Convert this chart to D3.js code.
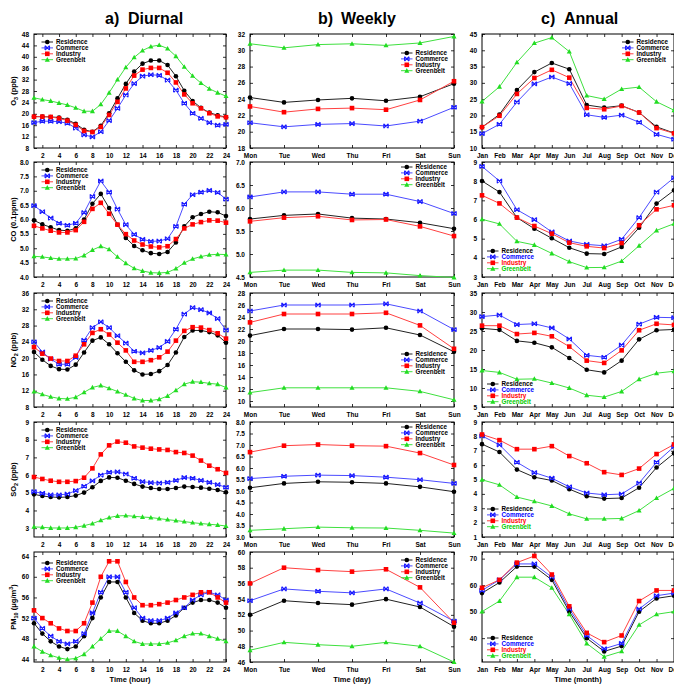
<!DOCTYPE html>
<html>
<head>
<meta charset="utf-8">
<script src="https://cdn.jsdelivr.net/npm/d3@7"></script>
<style>
  body { margin: 0; background: #fff; }
  svg { display: block; font-family: Arial, "Liberation Sans", sans-serif; }
</style>
</head>
<body>
<script>
// ---- categories ----
const hours = d3.range(1, 25);
const days = ["Mon", "Tue", "Wed", "Thu", "Fri", "Sat", "Sun"];
const months = ["Jan", "Feb", "Mar", "Apr", "May", "Jun", "Jul", "Aug", "Sep", "Oct", "Nov", "Dec"];
const sites = ["Residence", "Commerce", "Industry", "Greenbelt"];
const hourTicks = d3.range(2, 25, 2);

// ---- series values: each panel lists [Residence, Commerce, Industry, Greenbelt] ----
const o3Diurnal = [
  [19.0, 19.0, 18.9, 18.7, 17.9, 16.5, 14.4, 13.7, 15.8, 20.2, 25.4, 30.5, 34.8, 37.6, 38.7, 38.7, 37.1, 33.2, 28.1, 24.5, 22.1, 20.4, 19.5, 18.8],
  [16.9, 17.4, 17.4, 17.2, 16.7, 15.0, 12.6, 11.9, 13.7, 17.6, 21.9, 26.6, 30.6, 33.2, 33.7, 33.5, 31.8, 28.3, 23.7, 20.2, 18.4, 16.9, 16.0, 16.3],
  [19.0, 19.0, 18.9, 18.4, 17.6, 16.1, 14.0, 13.6, 15.4, 19.6, 24.2, 28.9, 33.4, 35.5, 36.1, 36.1, 34.4, 31.0, 26.8, 23.7, 21.9, 20.2, 19.1, 18.8],
  [25.6, 25.0, 24.5, 23.8, 23.1, 22.1, 20.9, 20.9, 23.3, 27.4, 32.0, 36.3, 39.8, 42.2, 43.6, 44.1, 42.9, 40.2, 36.5, 33.3, 30.8, 28.8, 27.4, 26.2]
];
const coDiurnal = [
  [5.97, 5.83, 5.73, 5.63, 5.61, 5.69, 6.00, 6.55, 6.89, 6.40, 5.82, 5.36, 5.08, 4.93, 4.83, 4.80, 4.87, 5.20, 5.76, 6.08, 6.19, 6.27, 6.25, 6.12],
  [6.48, 6.27, 6.05, 5.87, 5.80, 5.87, 6.24, 6.80, 7.34, 6.95, 6.36, 5.82, 5.48, 5.31, 5.24, 5.25, 5.33, 5.76, 6.53, 6.86, 6.95, 7.01, 6.94, 6.71],
  [5.78, 5.69, 5.61, 5.55, 5.55, 5.63, 5.92, 6.37, 6.58, 6.20, 5.82, 5.49, 5.27, 5.13, 5.06, 5.03, 5.07, 5.32, 5.69, 5.83, 5.91, 5.97, 5.96, 5.89],
  [4.72, 4.70, 4.66, 4.63, 4.63, 4.64, 4.75, 4.94, 5.07, 4.96, 4.70, 4.48, 4.30, 4.21, 4.15, 4.14, 4.16, 4.29, 4.49, 4.63, 4.71, 4.77, 4.79, 4.78]
];
const no2Diurnal = [
  [21.5, 19.6, 18.1, 17.3, 17.2, 18.4, 21.4, 24.3, 25.1, 23.4, 21.2, 19.1, 17.0, 16.0, 16.1, 16.8, 18.3, 21.4, 25.2, 26.8, 26.8, 26.4, 25.6, 23.8],
  [24.0, 21.5, 19.8, 18.5, 18.5, 20.2, 24.4, 27.5, 28.9, 27.5, 25.5, 23.7, 21.7, 21.3, 21.9, 22.6, 24.1, 27.1, 30.8, 32.4, 31.9, 31.1, 29.7, 26.9],
  [22.7, 21.1, 19.9, 19.3, 19.3, 20.6, 23.4, 26.2, 27.1, 25.8, 23.8, 21.9, 19.1, 19.1, 19.5, 20.2, 21.6, 24.3, 26.7, 27.6, 27.5, 26.9, 26.1, 24.8],
  [11.8, 11.1, 10.5, 10.1, 10.0, 10.4, 11.6, 12.8, 13.3, 12.6, 11.8, 11.0, 10.1, 9.6, 9.6, 9.9, 10.7, 12.1, 13.6, 14.2, 14.1, 13.8, 13.6, 12.8]
];
const so2Diurnal = [
  [4.91, 4.82, 4.76, 4.74, 4.76, 4.84, 5.01, 5.31, 5.67, 5.87, 5.85, 5.68, 5.50, 5.35, 5.27, 5.21, 5.21, 5.27, 5.35, 5.33, 5.29, 5.23, 5.16, 5.03],
  [5.06, 4.97, 4.88, 4.88, 4.93, 5.12, 5.37, 5.67, 6.00, 6.16, 6.18, 6.06, 5.82, 5.63, 5.57, 5.55, 5.59, 5.70, 5.86, 5.82, 5.70, 5.59, 5.46, 5.31],
  [5.89, 5.78, 5.68, 5.62, 5.62, 5.66, 5.85, 6.38, 7.17, 7.68, 7.89, 7.83, 7.62, 7.55, 7.49, 7.45, 7.42, 7.30, 7.25, 7.10, 6.82, 6.53, 6.33, 6.12],
  [3.07, 3.05, 3.01, 3.01, 3.01, 3.05, 3.14, 3.26, 3.44, 3.60, 3.69, 3.71, 3.67, 3.63, 3.60, 3.54, 3.48, 3.43, 3.37, 3.31, 3.26, 3.22, 3.18, 3.12]
];
const pmDiurnal = [
  [51.0, 49.0, 47.5, 46.5, 46.0, 46.5, 48.5, 52.0, 56.0, 59.0, 59.0, 56.0, 53.0, 51.5, 51.0, 51.0, 51.5, 52.5, 54.0, 55.0, 55.5, 55.5, 55.0, 54.0],
  [52.0, 50.0, 48.5, 47.5, 47.0, 47.5, 49.0, 53.0, 57.0, 60.0, 60.0, 57.0, 54.0, 52.0, 51.5, 51.5, 52.0, 53.0, 54.0, 55.5, 56.5, 57.0, 56.5, 55.5],
  [53.5, 52.0, 51.0, 50.0, 49.5, 49.5, 51.0, 55.0, 60.0, 63.0, 63.0, 59.0, 56.0, 54.5, 54.5, 54.7, 55.0, 55.5, 56.0, 56.5, 57.0, 57.0, 56.0, 55.0],
  [46.5, 45.5, 44.8, 44.3, 44.0, 44.2, 45.0, 46.5, 48.0, 49.5, 49.5, 48.5, 47.5, 47.0, 47.0, 47.0, 47.2, 47.7, 48.5, 49.0, 49.0, 48.5, 48.0, 47.5]
];

const o3Weekly = [
  [24.2, 23.6, 23.9, 24.1, 23.8, 24.3, 25.9],
  [21.1, 20.6, 20.9, 21.0, 20.7, 21.3, 23.0],
  [23.1, 22.4, 22.8, 22.9, 22.7, 23.9, 26.2],
  [30.8, 30.3, 30.7, 30.8, 30.6, 30.9, 31.7]
];
const coWeekly = [
  [5.76, 5.84, 5.87, 5.78, 5.76, 5.68, 5.55],
  [6.24, 6.35, 6.35, 6.30, 6.30, 6.14, 5.88],
  [5.71, 5.79, 5.82, 5.74, 5.75, 5.60, 5.39],
  [4.60, 4.65, 4.65, 4.60, 4.59, 4.53, 4.49]
];
const no2Weekly = [
  [20.9, 22.0, 22.0, 21.9, 22.2, 21.0, 18.2],
  [25.0, 26.0, 26.0, 26.0, 26.2, 25.0, 21.9],
  [23.1, 24.5, 24.5, 24.5, 24.7, 22.6, 18.7],
  [11.4, 12.2, 12.2, 12.2, 12.2, 11.6, 10.2]
];
const so2Weekly = [
  [5.14, 5.33, 5.40, 5.38, 5.33, 5.18, 4.97],
  [5.54, 5.64, 5.69, 5.67, 5.60, 5.49, 5.33],
  [6.69, 6.97, 7.02, 6.97, 6.95, 6.65, 6.13],
  [3.29, 3.36, 3.43, 3.40, 3.39, 3.29, 3.17]
];
const pmWeekly = [
  [52.0, 53.8, 53.5, 53.3, 54.0, 53.0, 50.5],
  [53.8, 55.3, 55.0, 54.8, 55.3, 53.5, 51.2],
  [56.0, 58.0, 57.7, 57.5, 57.8, 55.5, 51.0],
  [47.5, 48.5, 48.2, 48.0, 48.5, 48.0, 46.0]
];

const o3Annual = [
  [16.4, 20.3, 27.8, 33.3, 36.1, 34.2, 23.2, 22.4, 23.0, 20.9, 16.5, 14.6],
  [14.4, 17.3, 24.1, 29.7, 31.8, 29.8, 20.2, 19.4, 20.1, 17.9, 14.2, 12.7],
  [16.4, 19.9, 26.6, 31.5, 34.0, 31.6, 22.3, 21.9, 22.9, 20.9, 16.1, 14.5],
  [24.3, 28.8, 36.3, 42.2, 43.9, 39.6, 26.1, 25.0, 28.1, 28.7, 24.2, 21.6]
];
const coAnnual = [
  [8.01, 7.43, 6.10, 5.52, 5.02, 4.53, 4.22, 4.20, 4.57, 5.57, 6.83, 7.52],
  [8.77, 8.01, 6.51, 5.99, 5.35, 4.88, 4.70, 4.63, 4.97, 6.10, 7.43, 8.18],
  [7.26, 6.84, 6.10, 5.66, 5.26, 4.79, 4.60, 4.51, 4.77, 5.70, 6.53, 6.74],
  [6.01, 5.77, 4.86, 4.67, 4.23, 3.80, 3.49, 3.50, 3.83, 4.63, 5.43, 5.78]
];
const no2Annual = [
  [25.7, 25.3, 22.4, 21.9, 20.7, 17.9, 14.8, 14.1, 17.2, 22.8, 25.2, 25.4],
  [28.8, 29.2, 26.7, 26.9, 25.8, 22.9, 18.6, 18.1, 21.3, 26.8, 28.6, 28.5],
  [26.4, 26.4, 24.2, 24.5, 23.6, 20.9, 17.2, 16.6, 19.9, 25.2, 26.9, 26.6],
  [14.6, 14.1, 12.3, 12.4, 11.3, 10.0, 8.1, 7.6, 9.1, 12.3, 13.9, 14.4]
];
const so2Annual = [
  [7.46, 6.91, 5.69, 5.16, 4.93, 4.33, 3.83, 3.67, 3.71, 4.43, 5.83, 6.82],
  [8.03, 7.41, 6.20, 5.48, 5.09, 4.49, 4.06, 3.94, 3.99, 4.75, 6.20, 7.28],
  [8.13, 7.74, 7.11, 7.11, 7.32, 6.63, 6.13, 5.51, 5.32, 5.76, 6.77, 7.44],
  [4.98, 4.63, 3.78, 3.48, 3.16, 2.61, 2.26, 2.26, 2.29, 2.84, 3.71, 4.38]
];
const pmAnnual = [
  [57.0, 61.0, 67.0, 67.0, 62.0, 50.0, 40.0, 35.0, 37.0, 50.0, 55.0, 56.0],
  [58.0, 62.0, 68.0, 68.0, 63.0, 51.0, 41.0, 36.0, 38.0, 51.0, 56.0, 57.0],
  [59.0, 62.0, 68.5, 71.0, 64.0, 52.0, 42.0, 38.5, 41.0, 54.0, 58.0, 58.0],
  [50.0, 54.0, 63.0, 63.0, 59.0, 49.0, 38.0, 33.0, 35.0, 45.0, 49.0, 50.0]
];

// ---- styling ----
const lineColor = ["#222222", "#4b4bff", "#ff4040", "#3fe03f"];
const markColor = ["#000000", "#1a1aff", "#ff0000", "#22dd22"];
const legendTextColor = ["#000000", "#0000ff", "#ff0000", "#00cc00"];

const W = 674, H = 684;
const svg = d3.select("body").append("svg").attr("width", W).attr("height", H);

const cols = [{x0: 34, x1: 226}, {x0: 250, x1: 454}, {x0: 482, x1: 674}];
const rows = [{y0: 34, y1: 148}, {y0: 162, y1: 277}, {y0: 293, y1: 407}, {y0: 422, y1: 537}, {y0: 552, y1: 662}];

function drawMarker(g, k, x, y) {
  if (k === 0) {
    g.append("circle").attr("cx", x).attr("cy", y).attr("r", 2.3).attr("fill", markColor[0]);
  } else if (k === 1) {
    const r = 2.2;
    g.append("path").attr("transform", `translate(${x},${y})`)
      .attr("d", `M${-r},${-r}L${r},${r}M${-r},${r}L${r},${-r}M${-r},${-r}L${-r},${r}M${r},${-r}L${r},${r}`)
      .attr("fill", "none").attr("stroke", markColor[1]).attr("stroke-width", 1.1);
  } else if (k === 2) {
    const s = 2.3;
    g.append("path").attr("transform", `translate(${x},${y})`)
      .attr("d", `M${-s},${-s}h${2 * s}v${2 * s}h${-2 * s}Z`).attr("fill", markColor[2]);
  } else {
    const s = 2.3;
    g.append("path").attr("transform", `translate(${x},${y})`)
      .attr("d", `M0,${-s * 1.15}L${s * 1.1},${s * 0.85}L${-s * 1.1},${s * 0.85}Z`).attr("fill", markColor[3]);
  }
}

function panel(cfg) {
  const c = cols[cfg.col], r = rows[cfg.row];
  const g = svg.append("g");
  const cats = cfg.cats;
  const x = d3.scalePoint().domain(cats).range([c.x0, c.x1]);
  const y = d3.scaleLinear().domain(cfg.yDomain).range([r.y1, r.y0]);

  // frame
  g.append("rect").attr("x", c.x0).attr("y", r.y0).attr("width", c.x1 - c.x0).attr("height", r.y1 - r.y0)
    .attr("fill", "none").attr("stroke", "#000").attr("stroke-width", 1);

  // axes with inward ticks on all four sides
  const xTickVals = cfg.xTicks || cats;
  const bottom = d3.axisBottom(x).tickValues(xTickVals).tickSizeInner(-3).tickSizeOuter(0).tickPadding(5);
  const top = d3.axisTop(x).tickValues(xTickVals).tickSizeInner(-3).tickSizeOuter(0).tickFormat("");
  const left = d3.axisLeft(y).tickValues(cfg.yTicks).tickSizeInner(-3).tickSizeOuter(0).tickPadding(5)
    .tickFormat(cfg.yFormat ? d3.format(cfg.yFormat) : d3.format("d"));
  const right = d3.axisRight(y).tickValues(cfg.yTicks).tickSizeInner(-3).tickSizeOuter(0).tickFormat("");

  [[bottom, `translate(0,${r.y1})`], [top, `translate(0,${r.y0})`], [left, `translate(${c.x0},0)`], [right, `translate(${c.x1},0)`]]
    .forEach(([ax, tr]) => {
      const a = g.append("g").attr("transform", tr).call(ax);
      a.select(".domain").remove();
      a.selectAll("line").attr("stroke", "#000").attr("stroke-width", 0.8);
      a.selectAll("text").attr("font-size", 6.5).attr("font-weight", "bold").attr("fill", "#000")
        .attr("font-family", "Arial, 'Liberation Sans', sans-serif");
    });

  // series lines, then markers on top
  cfg.data.forEach((vals, k) => {
    const pts = vals.map((v, i) => [x(cats[i]), y(v)]);
    g.append("path").attr("d", d3.line()(pts)).attr("fill", "none")
      .attr("stroke", lineColor[k]).attr("stroke-width", 1);
  });
  cfg.data.forEach((vals, k) => {
    vals.forEach((v, i) => drawMarker(g, k, x(cats[i]), y(v)));
  });

  // legend
  const L = cfg.legend;
  sites.forEach((s, k) => {
    const yy = L.y + k * 5.9;
    g.append("line").attr("x1", L.x).attr("x2", L.x + 11.5).attr("y1", yy).attr("y2", yy)
      .attr("stroke", lineColor[k]).attr("stroke-width", 1);
    drawMarker(g, k, L.x + 5.8, yy);
    g.append("text").attr("x", L.x + 14.5).attr("y", yy + 2.2).text(s)
      .attr("font-size", 6.3).attr("font-weight", "bold")
      .attr("fill", L.colored ? legendTextColor[k] : "#000");
  });
}

const diurnalLegend = row => ({x: 41.5, y: rows[row].y0 + 8});

// column a: diurnal
panel({col: 0, row: 0, cats: hours, xTicks: hourTicks, data: o3Diurnal, yDomain: [8, 48], yTicks: d3.range(8, 49, 4), legend: diurnalLegend(0)});
panel({col: 0, row: 1, cats: hours, xTicks: hourTicks, data: coDiurnal, yDomain: [4, 8], yTicks: d3.range(4, 8.01, 0.5), yFormat: ".1f", legend: diurnalLegend(1)});
panel({col: 0, row: 2, cats: hours, xTicks: hourTicks, data: no2Diurnal, yDomain: [8, 36], yTicks: d3.range(8, 37, 4), legend: diurnalLegend(2)});
panel({col: 0, row: 3, cats: hours, xTicks: hourTicks, data: so2Diurnal, yDomain: [2.5, 9], yTicks: d3.range(3, 10, 1), legend: diurnalLegend(3)});
panel({col: 0, row: 4, cats: hours, xTicks: hourTicks, data: pmDiurnal, yDomain: [43.5, 64.8], yTicks: d3.range(44, 65, 4), legend: {x: 41.5, y: rows[4].y0 + 11}});

// column b: weekly
panel({col: 1, row: 0, cats: days, data: o3Weekly, yDomain: [18, 32], yTicks: d3.range(18, 33, 2), legend: {x: 401, y: rows[0].y0 + 19}});
panel({col: 1, row: 1, cats: days, data: coWeekly, yDomain: [4.5, 7], yTicks: d3.range(4.5, 7.01, 0.5), yFormat: ".1f", legend: {x: 401, y: rows[1].y0 + 5}});
panel({col: 1, row: 2, cats: days, data: no2Weekly, yDomain: [9, 28], yTicks: d3.range(10, 29, 2), legend: {x: 401, y: rows[2].y0 + 61}});
panel({col: 1, row: 3, cats: days, data: so2Weekly, yDomain: [3, 8], yTicks: d3.range(3, 8.01, 0.5), yFormat: ".1f", legend: {x: 401, y: rows[3].y0 + 5}});
panel({col: 1, row: 4, cats: days, data: pmWeekly, yDomain: [46, 60], yTicks: d3.range(46, 61, 2), legend: {x: 401, y: rows[4].y0 + 8}});

// column c: annual
panel({col: 2, row: 0, cats: months, data: o3Annual, yDomain: [10, 45], yTicks: d3.range(10, 46, 5), legend: {x: 622, y: rows[0].y0 + 8}});
panel({col: 2, row: 1, cats: months, data: coAnnual, yDomain: [3, 9], yTicks: d3.range(3, 10, 1), legend: {x: 487, y: rows[1].y1 - 26, colored: true}});
panel({col: 2, row: 2, cats: months, data: no2Annual, yDomain: [5, 35], yTicks: d3.range(5, 36, 5), legend: {x: 487, y: rows[2].y1 - 23, colored: true}});
panel({col: 2, row: 3, cats: months, data: so2Annual, yDomain: [1, 9], yTicks: d3.range(1, 10, 1), legend: {x: 487, y: rows[3].y1 - 28, colored: true}});
panel({col: 2, row: 4, cats: months, data: pmAnnual, yDomain: [31, 72.5], yTicks: d3.range(40, 71, 10), legend: {x: 487, y: rows[4].y1 - 24, colored: true}});

// column titles
[["a)", "Diurnal", 105, 128], ["b)", "Weekly", 318, 341], ["c)", "Annual", 541, 564]].forEach(([a, b, xa, xb]) => {
  svg.append("text").attr("x", xa).attr("y", 24).attr("font-size", 16).attr("font-weight", "bold").text(a);
  svg.append("text").attr("x", xb).attr("y", 24).attr("font-size", 16).attr("font-weight", "bold").text(b);
});

// y-axis titles for the first column
const yTitles = [["O", "3", " (ppb)"], ["CO (0.1ppm)", "", ""], ["NO", "2", " (ppb)"], ["SO", "2", " (ppb)"], ["PM", "10", " (\u03bcg/m", "3", ")"]];
yTitles.forEach((parts, i) => {
  const r = rows[i];
  const t = svg.append("text").attr("transform", `translate(16,${(r.y0 + r.y1) / 2}) rotate(-90)`)
    .attr("text-anchor", "middle").attr("font-size", 7.5).attr("font-weight", "bold");
  t.append("tspan").text(parts[0]);
  if (parts[1]) t.append("tspan").text(parts[1]).attr("font-size", 5.5).attr("dy", 2);
  if (parts[2]) t.append("tspan").text(parts[2]).attr("dy", parts[1] ? -2 : 0);
  if (parts[3]) t.append("tspan").text(parts[3]).attr("font-size", 5.5).attr("dy", -3);
  if (parts[4]) t.append("tspan").text(parts[4]).attr("dy", 3);
});

// x-axis titles
[["Time (hour)", 130], ["Time (day)", 352], ["Time (month)", 578]].forEach(([s, cx]) => {
  svg.append("text").attr("x", cx).attr("y", 682).attr("text-anchor", "middle")
    .attr("font-size", 7.5).attr("font-weight", "bold").text(s);
});
</script>
</body>
</html>
